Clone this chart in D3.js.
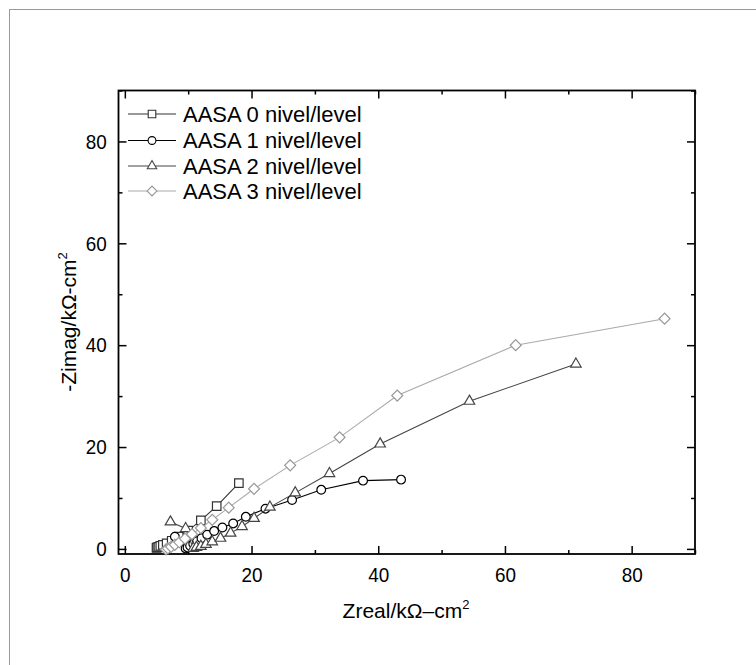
<!DOCTYPE html>
<html><head><meta charset="utf-8">
<script src="https://cdn.jsdelivr.net/npm/d3@7"></script>
<style>body{margin:0;background:#fff}text{font-family:"Liberation Sans",Arial,sans-serif}</style>
</head><body>
<svg id="c" width="756" height="665"></svg>
<script>
// ---- data (Zreal, -Zimag) in kΩ·cm² ----
const seriesNames = ["AASA 0 nivel/level","AASA 1 nivel/level","AASA 2 nivel/level","AASA 3 nivel/level"];
const aasa0 = [[5.0,0.2],[5.1,0.3],[5.3,0.4],[5.6,0.6],[6.0,0.8],[6.6,1.1],[7.4,1.6],[8.5,2.4],[10.0,3.6],[12.0,5.6],[14.5,8.4],[18.0,12.9]];
const aasa1 = [[7.9,2.4],[9.6,0.1],[9.9,0.3],[10.3,0.6],[10.8,1.0],[11.4,1.5],[12.1,2.1],[13.0,2.8],[14.1,3.5],[15.4,4.2],[17.1,5.0],[19.1,6.3],[22.2,7.9],[26.4,9.6],[31.0,11.6],[37.6,13.4],[43.6,13.6]];
const aasa2 = [[7.2,5.3],[9.6,4.0],[10.8,0.1],[11.3,0.3],[12.0,0.5],[12.8,0.9],[13.8,1.4],[15.1,2.1],[16.7,3.1],[18.5,4.4],[20.4,6.0],[22.9,8.2],[26.9,11.0],[32.3,14.8],[40.3,20.6],[54.4,29.0],[71.2,36.3]];
const aasa3 = [[6.5,-0.1],[6.8,0.1],[7.3,0.4],[7.9,0.8],[8.6,1.3],[9.5,2.0],[10.6,2.9],[12.0,4.1],[13.8,5.7],[16.4,8.1],[20.4,11.8],[26.1,16.4],[33.9,21.9],[43.0,30.1],[61.7,40.0],[85.2,45.2]];
const xMajorTicks = [0,20,40,60,80];
const xMinorTicks = [10,30,50,70,90];
const yMajorTicks = [0,20,40,60,80];
const yMinorTicks = [10,30,50,70,90];
const xTitle = "Zreal/kΩ–cm";
const yTitle = "-Zimag/kΩ-cm";

const seriesData = [aasa0, aasa1, aasa2, aasa3];
const lineColors = ["#333","#000","#444","#aaa"];
const markColors = ["#333","#000","#444","#999"];
const symbols = [
  {type:d3.symbolSquare, size:72, rot:0},
  {type:d3.symbolCircle, size:60, rot:0},
  {type:d3.symbolTriangle, size:48, rot:0},
  {type:d3.symbolSquare, size:60, rot:45}
];

const svg = d3.select("#c");

// outer frame
svg.append("rect").attr("x",9.5).attr("y",9.5).attr("width",760).attr("height",680)
  .attr("fill","none").attr("stroke","#999").attr("stroke-width",1);

const x = d3.scaleLinear().domain([-1,90]).range([118.5,695]);
const y = d3.scaleLinear().domain([-1,90]).range([554,90.5]);

function axisG(axis, tx, ty){
  const g = svg.append("g").attr("transform",`translate(${tx},${ty})`).call(axis);
  g.select(".domain").remove();
  g.selectAll("line").attr("stroke","#000").attr("stroke-width",1.5);
  return g;
}
// bottom
const gb = axisG(d3.axisBottom(x).tickValues(xMajorTicks).tickSize(-8).tickPadding(13), 0, 554);
gb.selectAll("text").attr("font-size",21).attr("fill","#000").attr("transform","scale(0.9,1)");
axisG(d3.axisBottom(x).tickValues(xMinorTicks).tickSize(-4).tickFormat(""), 0, 554);
// top
axisG(d3.axisTop(x).tickValues(xMajorTicks).tickSize(-8).tickFormat(""), 0, 90.5);
axisG(d3.axisTop(x).tickValues(xMinorTicks).tickSize(-4).tickFormat(""), 0, 90.5);
// left
const gl = axisG(d3.axisLeft(y).tickValues(yMajorTicks).tickSize(-8).tickPadding(13), 118.5, 0);
gl.selectAll("text").attr("font-size",21).attr("fill","#000").attr("transform","scale(0.9,1)");
axisG(d3.axisLeft(y).tickValues(yMinorTicks).tickSize(-4).tickFormat(""), 118.5, 0);
// right
axisG(d3.axisRight(y).tickValues(yMajorTicks).tickSize(-8).tickFormat(""), 695, 0);
axisG(d3.axisRight(y).tickValues(yMinorTicks).tickSize(-4).tickFormat(""), 695, 0);

// plot frame
svg.append("rect").attr("x",x(-1)).attr("y",y(90)).attr("width",x(90)-x(-1)).attr("height",y(-1)-y(90))
  .attr("fill","none").attr("stroke","#000").attr("stroke-width",1.8);

// series
const line = d3.line().x(d=>x(d[0])).y(d=>y(d[1]));
seriesData.forEach((data,i)=>{
  svg.append("path").datum(data).attr("d",line).attr("fill","none")
    .attr("stroke",lineColors[i]).attr("stroke-width",1.1);
  const sym = d3.symbol().type(symbols[i].type).size(symbols[i].size);
  svg.append("g").selectAll("path").data(data).join("path")
    .attr("d",sym)
    .attr("transform",d=>`translate(${x(d[0])},${y(d[1])}) rotate(${symbols[i].rot})`)
    .attr("fill","#fff").attr("stroke",markColors[i]).attr("stroke-width",1.2);
});

// legend
const legRows = [114,140.5,166,191];
seriesNames.forEach((name,i)=>{
  const g = svg.append("g").attr("transform",`translate(0,${legRows[i]})`);
  g.append("line").attr("x1",128).attr("x2",176).attr("y1",0).attr("y2",0)
    .attr("stroke",lineColors[i]).attr("stroke-width",1.1);
  g.append("path").attr("d",d3.symbol().type(symbols[i].type).size(symbols[i].size*0.8)())
    .attr("transform",`translate(152,0) rotate(${symbols[i].rot})`)
    .attr("fill","#fff").attr("stroke",markColors[i]).attr("stroke-width",1.1);
  g.append("text").attr("x",183).attr("y",0).attr("dy","0.36em").attr("font-size",22).text(name);
});

// axis titles
const xt = svg.append("text").attr("x",406).attr("y",618).attr("text-anchor","middle").attr("font-size",21);
xt.append("tspan").text(xTitle);
xt.append("tspan").attr("font-size",13).attr("dy",-9).text("2");
const yt = svg.append("text").attr("transform","translate(76,322) rotate(-90)").attr("text-anchor","middle").attr("font-size",21);
yt.append("tspan").text(yTitle);
yt.append("tspan").attr("font-size",13).attr("dy",-9).text("2");
</script>
</body></html>
